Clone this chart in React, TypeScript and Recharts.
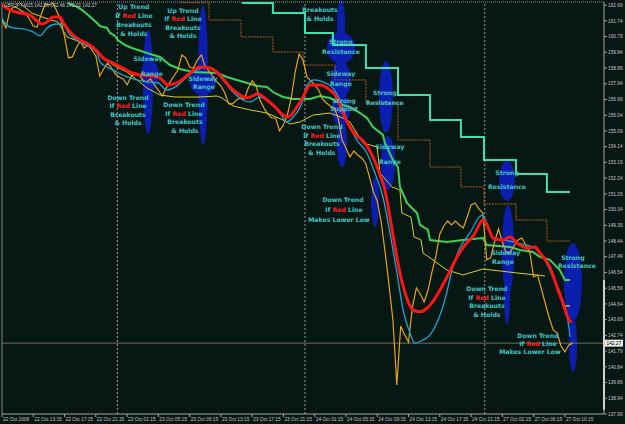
import React from "react";
import {
  ComposedChart,
  Line,
  XAxis,
  YAxis,
  ReferenceLine,
  ReferenceArea,
  ReferenceDot,
} from "recharts";

// ---------- axis labels ----------
const xTickBars = [0, 16, 32, 48, 64, 80, 96, 112, 128, 144, 160, 176, 192, 208, 224, 240, 256, 272, 288];
const xTickLabels = [
  "22 Oct 2008", "22 Oct 13:15", "22 Oct 17:15", "22 Oct 21:15", "23 Oct 01:15", "23 Oct 05:15",
  "23 Oct 09:15", "23 Oct 13:15", "23 Oct 17:15", "23 Oct 21:15", "24 Oct 01:15", "24 Oct 05:15",
  "24 Oct 09:15", "24 Oct 13:15", "24 Oct 17:15", "24 Oct 21:15", "27 Oct 02:15", "27 Oct 06:15",
  "27 Oct 10:15",
];
const priceLevels = [
  162.69, 161.74, 160.79, 159.84, 158.89, 157.94, 156.99, 156.04, 155.09, 154.14, 153.19, 152.24,
  151.29, 150.34, 149.39, 148.44, 147.49, 146.54, 145.59, 144.64, 143.69, 142.74, 141.79, 140.84,
  139.89, 138.94, 137.99,
];
const daySeparatorBars = [59, 155, 247];
const currentPrice = 142.27;
const headerText = "GBPJPY,M15  142.06 142.46 142.02 142.27";

// ---------- price (close, one value every 2 bars of M15) ----------
const priceClose = [
  161.79, 161.31, 162.34, 162.58, 162.52, 162.34, 162.21, 161.85, 161.43, 161.37,
  162.09, 162.76, 162.7, 162.82, 162.34, 161.79, 160.77, 159.5, 159.56, 160.1,
  160.52, 160.1, 160.28, 159.98, 159.62, 158.41, 158.83, 159.19, 158.89, 158.53,
  158.35, 158.23, 157.87, 158.35, 158.59, 158.47, 158.17, 158.05, 158.23, 157.87,
  157.56, 157.2, 157.68, 158.05, 158.41, 158.77, 159.68, 159.5, 158.95, 158.89,
  159.38, 159.68, 158.95, 158.71, 158.35, 158.05, 157.81, 157.38, 156.72, 156.72,
  156.96, 157.08, 157.02, 157.68, 158.11, 157.81, 156.96, 156.48, 156.11, 155.87,
  155.87, 155.09, 155.45, 156.05, 157.08, 158.65, 159.74, 159.38, 158.35, 158.11,
  157.87, 157.56, 157.02, 156.78, 156.6, 156.48, 155.87, 154.54, 154.06, 153.52,
  153.88, 153.64, 153.46, 153.15, 152.31, 151.4, 150.86, 149.59, 147.78, 145.79,
  143.67, 139.75, 143.31, 142.77, 142.34, 144.46, 145.6, 145.24, 144.76, 145.48,
  146.57, 147.54, 148.87, 149.35, 149.65, 149.41, 149.65, 149.41, 149.23, 149.89,
  150.62, 150.74, 150.38, 150.13, 147.3, 147.42, 148.38, 149.17, 148.38, 147.72,
  147.78, 148.14, 148.5, 148.62, 148.2, 147.78, 146.27, 146.39, 145.54, 144.64,
  143.79, 143.07, 142.89, 142.1, 141.74, 142.16, 142.27,
];

// ---------- red moving average ----------
const redBars = [
  0, 4.1, 9.2, 14.3, 17.9, 20.5, 23.0, 26.1, 29.7, 31.2, 34.8, 39.9, 45.0, 49.1, 51.7, 56.8, 61.9,
  66.5, 70.6, 77.3, 80.8, 84.9, 89.5, 92.6, 96.2, 101.3, 106.4, 111.5, 116.6, 121.8, 125.3, 131.0,
  135.6, 139.7, 143.8, 146.3, 150.9, 154.0, 157.6, 162.7, 167.8, 171.4, 174.5, 179.6, 185.7, 189.3,
  193.4, 195.9, 198.5, 201.1, 203.6, 206.2, 210.3, 213.9, 216.4, 220.0, 224.1, 228.2, 232.8, 236.9,
  241.5, 246.1, 248.6, 251.2, 256.3, 259.9, 263.5, 268.6, 272.7, 275.2, 280.3, 283.9, 287.0, 289.6,
  291.1,
];
const redValues = [
  162.7, 162.4, 162.21, 162.09, 161.73, 161.55, 161.67, 161.97, 161.97, 161.67, 161.07, 160.58,
  160.28, 159.86, 159.5, 159.19, 158.89, 158.59, 158.47, 158.41, 158.29, 157.87, 157.99, 158.23,
  158.59, 158.95, 158.89, 158.47, 157.75, 157.26, 157.08, 157.32, 156.96, 156.54, 156.05, 155.93,
  156.54, 157.14, 157.87, 157.87, 157.56, 157.08, 156.17, 155.03, 154.36, 153.64, 152.43, 151.52,
  149.89, 148.08, 146.51, 145.3, 144.28, 144.16, 144.28, 144.7, 145.48, 146.39, 147.48, 148.2,
  148.81, 149.71, 149.29, 148.62, 148.5, 148.69, 148.32, 148.02, 148.08, 147.72, 146.87, 145.67,
  144.7, 143.79, 143.49,
];

// ---------- cyan moving average ----------
const cyanBars = [
  0, 1.5, 5.6, 10.7, 15.9, 19.4, 23.0, 28.1, 31.2, 34.8, 39.9, 45.0, 48.6, 50.1, 53.7, 58.8, 63.9,
  69.1, 74.2, 79.8, 84.4, 89.5, 94.6, 99.8, 103.9, 107.9, 113.1, 118.2, 123.3, 126.9, 132.0, 137.1,
  142.2, 145.8, 148.9, 154.0, 156.0, 160.1, 164.2, 169.3, 172.9, 177.0, 181.6, 186.7, 190.8, 194.9,
  198.5, 202.1, 205.2, 208.7, 211.3, 215.4, 219.0, 222.5, 226.6, 230.7, 234.3, 239.4, 245.6, 248.1,
  251.2, 257.3, 263.5, 271.7, 276.8, 281.9, 285.6, 289.2, 290.7,
];
const cyanValues = [
  161.91, 161.61, 161.31, 161.25, 161.07, 160.83, 161.31, 161.55, 161.49, 160.89, 160.46, 160.16,
  159.8, 159.26, 158.95, 158.65, 158.35, 158.17, 158.05, 157.99, 157.56, 157.81, 158.35, 158.77,
  158.95, 158.77, 158.17, 157.44, 156.96, 156.84, 157.14, 156.78, 156.17, 155.63, 155.93, 156.96,
  157.87, 158.17, 158.05, 157.68, 156.96, 155.57, 154.54, 153.76, 152.55, 151.1, 148.93, 146.51,
  144.28, 142.89, 142.28, 142.46, 142.77, 143.49, 144.88, 146.87, 148.02, 148.93, 150.01, 149.53,
  148.62, 148.5, 148.32, 148.08, 147.48, 146.27, 145.3, 143.85, 142.65,
];

// ---------- green descending support/resistance ----------
const greenBars = [
  33.8, 38.4, 40.9, 43.5, 48.6, 50.1, 53.7, 55.3, 57.8, 59.3, 62.9, 66.5, 69.6, 74.2, 80.8, 85.9,
  91.1, 97.7, 110.0, 115.1, 120.2, 125.3, 130.5, 135.6, 138.6, 143.8, 148.9, 157.6, 162.7, 167.8,
  174.5, 178.0, 183.2, 186.7, 189.8, 194.9, 195.9, 200.0, 202.6, 203.6, 207.2, 212.3, 213.9, 217.9,
  219.0, 227.7, 235.8, 246.1, 248.1, 259.9, 265.0, 271.6, 275.2, 280.3, 285.4, 288.0, 290.6,
];
const greenValues = [
  162.82, 162.58, 162.4, 162.15, 161.61, 161.43, 161.31, 161.01, 160.83, 160.58, 160.28, 160.1,
  159.98, 159.8, 159.56, 159.07, 158.83, 158.65, 158.59, 158.35, 158.17, 157.99, 157.81, 157.75,
  157.44, 157.14, 157.02, 157.02, 157.2, 157.08, 156.66, 156.54, 156.17, 155.87, 155.33, 154.85,
  154.36, 153.34, 152.91, 151.71, 150.74, 150.13, 149.41, 149.11, 148.5, 148.38, 148.5, 148.62,
  148.2, 148.08, 147.9, 147.78, 147.48, 147.3, 146.69, 146.09, 146.09,
];

// ---------- teal step resistance ----------
const tealBars = [122.8, 138.6, 155.0, 169.3, 186.2, 202.6, 219.0, 234.8, 246.6, 263.0, 278.8, 290.6];
const tealValues = [162.82, 162.21, 161.01, 160.28, 158.89, 157.26, 155.75, 154.73, 153.34, 152.49, 151.4, 151.4];

// ---------- brown step line ----------
const brownBars = [91.1, 105.9, 122.3, 138.6, 154.0, 170.4, 186.2, 202.6, 219.0, 234.8, 246.6, 263.0, 278.8, 290.6];
const brownValues = [162.84, 161.79, 160.77, 159.86, 159.07, 158.17, 156.78, 154.54, 152.91, 151.71, 150.68, 149.71, 148.44, 148.44];

// ---------- yellow channel ----------
const yellowBars = [
  9.2, 15.3, 22.0, 28.6, 33.3, 39.9, 46.0, 51.7, 57.8, 63.9, 69.1, 74.2, 80.8, 88.5, 101.3, 110.0,
  112.6, 118.2, 126.9, 135.6, 143.8, 147.3, 152.5, 159.1, 167.8, 174.5, 178.0, 184.7, 191.9, 193.4,
  199.5, 203.6, 204.6, 209.2, 210.8, 214.4, 215.4, 219.0, 227.7, 235.8, 246.1, 263.5, 277.8,
];
const yellowValues = [
  162.82, 162.21, 161.91, 161.67, 160.77, 160.46, 160.1, 159.5, 159.01, 158.65, 158.17, 157.68,
  157.26, 157.14, 157.14, 157.2, 157.08, 156.6, 156.36, 156.17, 155.75, 155.51, 155.63, 156.05,
  156.17, 155.87, 155.63, 154.36, 154.12, 152.55, 151.71, 151.52, 150.13, 149.89, 148.69, 148.5,
  147.72, 147.42, 146.69, 146.39, 146.75, 146.51, 146.33,
];
const yellowShortBars = [286.5, 290.6];
const yellowShortValues = [144.52, 144.52];

// ---------- blue ellipse annotations (bar range, price range) ----------
const ellipses = [
  { x1: 72.1, x2: 77.3, y1: 161.19, y2: 154.91 },
  { x1: 71.1, x2: 80.3, y1: 159.38, y2: 157.56 },
  { x1: 100.3, x2: 105.4, y1: 162.7, y2: 154.24 },
  { x1: 96.2, x2: 109.5, y1: 158.83, y2: 157.26 },
  { x1: 171.4, x2: 175.5, y1: 163.0, y2: 160.34 },
  { x1: 166.3, x2: 180.6, y1: 161.07, y2: 159.13 },
  { x1: 168.3, x2: 178.5, y1: 159.26, y2: 157.08 },
  { x1: 168.8, x2: 178.0, y1: 157.32, y2: 155.39 },
  { x1: 171.4, x2: 176.5, y1: 155.75, y2: 152.91 },
  { x1: 192.9, x2: 200.0, y1: 159.32, y2: 154.97 },
  { x1: 193.9, x2: 201.1, y1: 154.79, y2: 151.52 },
  { x1: 188.8, x2: 192.9, y1: 152.31, y2: 149.29 },
  { x1: 254.3, x2: 262.4, y1: 153.28, y2: 150.86 },
  { x1: 255.8, x2: 262.0, y1: 150.62, y2: 145.18 },
  { x1: 256.8, x2: 259.9, y1: 147.0, y2: 143.37 },
  { x1: 287.5, x2: 296.7, y1: 148.32, y2: 143.61 },
  { x1: 290.1, x2: 294.2, y1: 143.79, y2: 140.53 },
];

// ---------- text annotations (one entry per line) ----------
const annotations = [
  { x: 67.5, y: 162.58, t: "Up Trend" }, { x: 67.5, y: 162.03, t: "If Red Line" },
  { x: 67.5, y: 161.49, t: "Breakouts" }, { x: 67.5, y: 160.95, t: "& Holds" },
  { x: 92.6, y: 162.37, t: "Up Trend" }, { x: 92.6, y: 161.85, t: "If Red Line" },
  { x: 92.6, y: 161.34, t: "Breakouts" }, { x: 92.6, y: 160.83, t: "& Holds" },
  { x: 74.7, y: 159.44, t: "Sideway" }, { x: 76.7, y: 158.53, t: "Range" },
  { x: 102.8, y: 158.26, t: "Sideway" }, { x: 103.3, y: 157.75, t: "Range" },
  { x: 64.5, y: 157.11, t: "Down Trend" }, { x: 64.5, y: 156.6, t: "If Red Line" },
  { x: 64.5, y: 156.08, t: "Breakouts" }, { x: 64.5, y: 155.57, t: "& Holds" },
  { x: 93.1, y: 156.66, t: "Down Trend" }, { x: 93.1, y: 156.14, t: "If Red Line" },
  { x: 93.6, y: 155.63, t: "Breakouts" }, { x: 93.6, y: 155.12, t: "& Holds" },
  { x: 162.7, y: 162.4, t: "Breakouts" }, { x: 162.7, y: 161.85, t: "& Holds" },
  { x: 173.4, y: 160.46, t: "Strong" }, { x: 173.4, y: 159.86, t: "Resistance" },
  { x: 173.4, y: 158.53, t: "Sideway" }, { x: 173.4, y: 157.93, t: "Range" },
  { x: 175.0, y: 156.93, t: "Strong" }, { x: 175.0, y: 156.42, t: "Support" },
  { x: 195.9, y: 157.38, t: "Strong" }, { x: 195.9, y: 156.78, t: "Resistance" },
  { x: 163.7, y: 155.33, t: "Down Trend" }, { x: 163.7, y: 154.79, t: "If Red Line" },
  { x: 163.7, y: 154.3, t: "Breakouts" }, { x: 163.7, y: 153.76, t: "& Holds" },
  { x: 198.5, y: 154.12, t: "Sideway" }, { x: 198.5, y: 153.22, t: "Range" },
  { x: 174.5, y: 150.92, t: "Down Trend" }, { x: 175.0, y: 150.32, t: "If Red Line" },
  { x: 172.4, y: 149.71, t: "Makes Lower Low" },
  { x: 258.4, y: 152.55, t: "Strong" }, { x: 258.4, y: 151.71, t: "Resistance" },
  { x: 257.8, y: 147.72, t: "Sideway" }, { x: 256.3, y: 147.18, t: "Range" },
  { x: 292.1, y: 147.45, t: "Strong" }, { x: 294.2, y: 146.93, t: "Resistance" },
  { x: 248.1, y: 145.54, t: "Down Trend" }, { x: 248.1, y: 145.0, t: "If Red Line" },
  { x: 248.1, y: 144.52, t: "Breakouts" }, { x: 248.1, y: 143.97, t: "& Holds" },
  { x: 274.2, y: 142.71, t: "Down Trend" }, { x: 274.2, y: 142.22, t: "If Red Line" },
  { x: 270.1, y: 141.74, t: "Makes Lower Low" },
];

// ---------- built tables ----------
const pairs = (xs: number[], ys: number[]) => xs.map((x, i) => ({ x, y: ys[i] }));
const priceData = priceClose.map((y, i) => ({ x: i * 2, y }));
const redData = pairs(redBars, redValues);
const cyanData = pairs(cyanBars, cyanValues);
const greenData = pairs(greenBars, greenValues);
const tealData = pairs(tealBars, tealValues);
const brownData = pairs(brownBars, brownValues);
const yellowData = pairs(yellowBars, yellowValues);
const yellowShortData = pairs(yellowShortBars, yellowShortValues);

const X_DOMAIN: [number, number] = [0, 308];
const Y_DOMAIN: [number, number] = [137.99, 162.879];
const BG = "#071713";
const AXIS = "#a4a4a4";
const LABEL = "#c6c6c6";
const SANS = "Liberation Sans, Arial, sans-serif";
const BOLD = "DejaVu Sans, Verdana, sans-serif";

function XTick(props: any) {
  const { x, y, payload } = props;
  const idx = xTickBars.indexOf(payload.value);
  return (
    <text x={x + 1} y={y + 3.6} fontSize={4.8} fill={LABEL} fontFamily={SANS} textAnchor="start">
      {xTickLabels[idx]}
    </text>
  );
}

function YTick(props: any) {
  const { x, y, payload } = props;
  return (
    <text x={x} y={y + 1.7} fontSize={4.8} fill={LABEL} fontFamily={SANS} textAnchor="start">
      {Number(payload.value).toFixed(2)}
    </text>
  );
}

function AnnText({ cx, cy, text }: { cx: number; cy: number; text: string }) {
  const parts = text.split(/(Red)/);
  return (
    <text
      x={cx}
      y={cy + 2.2}
      textAnchor="middle"
      fontFamily={BOLD}
      fontWeight="bold"
      fontSize={6.2}
      fill="#40c6c4"
    >
      {parts.map((p, i) => (
        <tspan key={i} fill={p === "Red" ? "#ff2020" : undefined}>
          {p}
        </tspan>
      ))}
    </text>
  );
}

export default function App() {
  return (
    <div style={{ position: "absolute", left: 0, top: 0, width: 625, height: 424, background: BG }}>
      <ComposedChart width={625} height={424} margin={{ top: 2, right: 0, bottom: 0, left: 2 }}>
        <XAxis
          type="number"
          dataKey="x"
          domain={X_DOMAIN}
          allowDataOverflow
          ticks={xTickBars}
          interval={0}
          height={10}
          tickSize={3}
          tickMargin={0}
          stroke={AXIS}
          tickLine={{ stroke: AXIS }}
          axisLine={{ stroke: AXIS }}
          tick={(p: any) => <XTick {...p} />}
        />
        <YAxis
          type="number"
          orientation="right"
          domain={Y_DOMAIN}
          allowDataOverflow
          ticks={priceLevels}
          interval={0}
          width={21}
          tickSize={3}
          tickMargin={1}
          stroke={AXIS}
          tickLine={{ stroke: AXIS }}
          axisLine={{ stroke: AXIS }}
          tick={(p: any) => <YTick {...p} />}
        />

        {ellipses.map((e, i) => (
          <ReferenceArea
            key={"e" + i}
            x1={e.x1}
            x2={e.x2}
            y1={e.y1}
            y2={e.y2}
            ifOverflow="hidden"
            shape={(p: any) => (
              <ellipse
                cx={p.x + p.width / 2}
                cy={p.y + p.height / 2}
                rx={Math.abs(p.width) / 2}
                ry={Math.abs(p.height) / 2}
                fill="#0c1eae"
              />
            )}
          />
        ))}

        <ReferenceLine y={Y_DOMAIN[1]} stroke="#9a9a9a" strokeDasharray="1 1" />
        <ReferenceLine x={0} stroke="#8a8a8a" />
        {daySeparatorBars.map((b) => (
          <ReferenceLine key={"d" + b} x={b} stroke="#9c9c9c" strokeDasharray="2 2" />
        ))}
        <ReferenceLine
          y={currentPrice}
          stroke="#707066"
          label={(p: any) => {
            const vb = p.viewBox || {};
            return (
              <g>
                <rect x={vb.x + vb.width} y={vb.y - 3.5} width={19} height={7} fill="#e8e8e8" />
                <text x={vb.x + vb.width + 2.5} y={vb.y + 1.8} fontSize={4.8} fontFamily={SANS} fill="#000">
                  {currentPrice.toFixed(2)}
                </text>
              </g>
            );
          }}
        />
        <ReferenceLine
          segment={[
            { x: X_DOMAIN[1], y: 146.09 },
            { x: X_DOMAIN[1], y: 138.24 },
          ]}
          stroke="#ffffff"
          strokeWidth={2}
          ifOverflow="visible"
        />

        <Line data={yellowData} dataKey="y" type="linear" stroke="#d8d21e" strokeWidth={1} dot={false} activeDot={false} isAnimationActive={false} />
        <Line data={yellowShortData} dataKey="y" type="linear" stroke="#e8e820" strokeWidth={1.2} dot={false} activeDot={false} isAnimationActive={false} />
        <Line data={brownData} dataKey="y" type="stepAfter" stroke="#b45a1c" strokeWidth={1} strokeDasharray="2 1" dot={false} activeDot={false} isAnimationActive={false} />
        <Line data={tealData} dataKey="y" type="stepAfter" stroke="#3ee0ae" strokeWidth={2} dot={false} activeDot={false} isAnimationActive={false} />
        <Line data={greenData} dataKey="y" type="linear" stroke="#3fd05a" strokeWidth={2} dot={false} activeDot={false} isAnimationActive={false} />
        <Line data={priceData} dataKey="y" type="linear" stroke="#e6a418" strokeWidth={1.2} dot={false} activeDot={false} isAnimationActive={false} />
        <Line data={cyanData} dataKey="y" type="monotone" stroke="#1aa6d6" strokeWidth={1.3} dot={false} activeDot={false} isAnimationActive={false} />
        <Line data={redData} dataKey="y" type="monotone" stroke="#ff1414" strokeWidth={3} dot={false} activeDot={false} isAnimationActive={false} />

        {annotations.map((a, i) => (
          <ReferenceDot
            key={"t" + i}
            x={a.x}
            y={a.y}
            r={1}
            ifOverflow="visible"
            shape={(p: any) => <AnnText cx={p.cx} cy={p.cy} text={a.t} />}
          />
        ))}
      </ComposedChart>
      <svg width={200} height={10} style={{ position: "absolute", left: 0, top: 0 }}>
        <text x={4} y={7} fontSize={4.8} fontFamily={SANS} fill={LABEL}>
          {headerText}
        </text>
      </svg>
    </div>
  );
}
